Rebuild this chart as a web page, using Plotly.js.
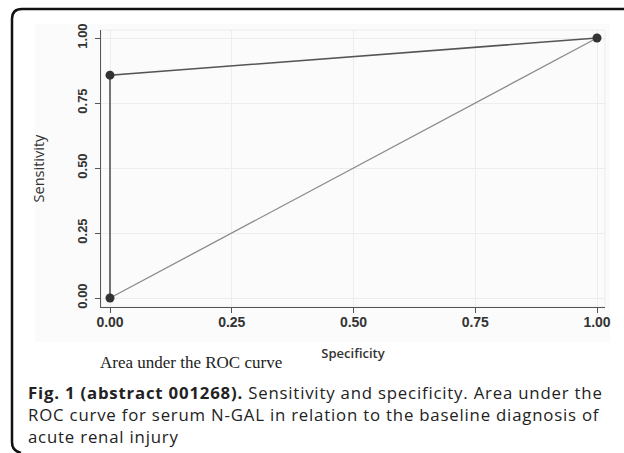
<!DOCTYPE html>
<html>
<head>
<meta charset="utf-8">
<script src="https://cdn.plot.ly/plotly-3.0.1.min.js"></script>
<style>
html,body{margin:0;padding:0;background:#fff;}
#chart{width:624px;height:453px;}
#chart .annotation[data-index="1"] text{letter-spacing:0.8px;}
</style>
</head>
<body>
<div id="chart"></div>
<script>
// ROC data (x = specificity axis, y = sensitivity)
const rocX = [0, 0, 1];
const rocY = [0, 0.857, 1];
const refX = [0, 1];
const refY = [0, 1];
const tickVals = [0, 0.25, 0.5, 0.75, 1];
const tickText = ["0.00", "0.25", "0.50", "0.75", "1.00"];
const xTitle = "Specificity";
const yTitle = "Sensitivity";
const subTitle = "Area under the ROC curve";
const captionLines = [
  "<b>Fig. 1 (abstract 001268).</b> Sensitivity and specificity. Area under the",
  "ROC curve for serum N-GAL in relation to the baseline diagnosis of",
  "acute renal injury"
];

// layout geometry helpers (pixel -> paper)
const L = 101, R = 605, T = 30, B = 307;
const W = R - L, H = B - T;
const px = v => (v - L) / W;
const py = v => (B - v) / H;

const traces = [
  {x: refX, y: refY, mode: "lines", line: {color: "#8a8a8a", width: 1.3}, hoverinfo: "skip"},
  {x: rocX, y: rocY, mode: "lines+markers", line: {color: "#555", width: 1.6},
   marker: {color: "#333", size: 9}}
];

const border = `M ${px(640)} ${py(9)} L ${px(22)} ${py(9)} Q ${px(12)} ${py(9)} ${px(12)} ${py(19)} L ${px(12)} ${py(442)} Q ${px(12)} ${py(451)} ${px(21)} ${py(453)}`;

const annotations = [
  {text: subTitle, xref: "paper", yref: "paper", x: px(191), y: py(362), xanchor: "center", yanchor: "middle",
   showarrow: false, font: {family: "Liberation Serif", size: 17, color: "#222"}},
  {text: captionLines.join("<br>"), xref: "paper", yref: "paper", x: px(26), y: py(414), xanchor: "left", yanchor: "middle",
   showarrow: false, align: "left", font: {family: "Open Sans", size: 16.8, color: "#222"}}
];

const axisCommon = {
  tickvals: tickVals, ticktext: tickText, showgrid: true, gridcolor: "#ededed", gridwidth: 1,
  zeroline: false, showline: true, linecolor: "#555", linewidth: 1,
  ticks: "outside", ticklen: 5, tickcolor: "#555", tickwidth: 1
};

const layout = {
  width: 624, height: 453,
  margin: {l: L, r: 624 - R, t: T, b: 453 - B},
  paper_bgcolor: "#fff", plot_bgcolor: "rgba(0,0,0,0)",
  showlegend: false,
  xaxis: Object.assign({}, axisCommon, {
    range: [-9 / 487, 1 + 8 / 487],
    tickfont: {family: "Liberation Sans", size: 14, color: "#333", weight: "bold"},
    ticklabelstandoff: -3,
    title: {text: xTitle, standoff: 20, font: {family: "Open Sans", size: 13, color: "#333", weight: 600}}
  }),
  yaxis: Object.assign({}, axisCommon, {
    range: [-9 / 260, 1 + 8 / 260], tickangle: -90,
    tickfont: {family: "Liberation Sans", size: 13, color: "#333", weight: "bold"},
    ticklabelstandoff: 3,
    title: {text: yTitle, standoff: 26, font: {family: "Open Sans", size: 14.5, color: "#333"}}
  }),
  shapes: [
    {type: "rect", xref: "paper", yref: "paper", x0: px(35), x1: px(610), y0: py(342), y1: py(24),
     fillcolor: "#fbfbfb", line: {width: 0}, layer: "below"},
    {type: "rect", xref: "paper", yref: "paper", x0: 0, x1: 1, y0: 0, y1: 1,
     line: {color: "#ececec", width: 1}, layer: "below"},
    {type: "path", xref: "paper", yref: "paper", path: border, line: {color: "#111", width: 2.5}}
  ],
  annotations: annotations
};

Plotly.newPlot("chart", traces, layout, {displayModeBar: false, staticPlot: true});
</script>
</body>
</html>
